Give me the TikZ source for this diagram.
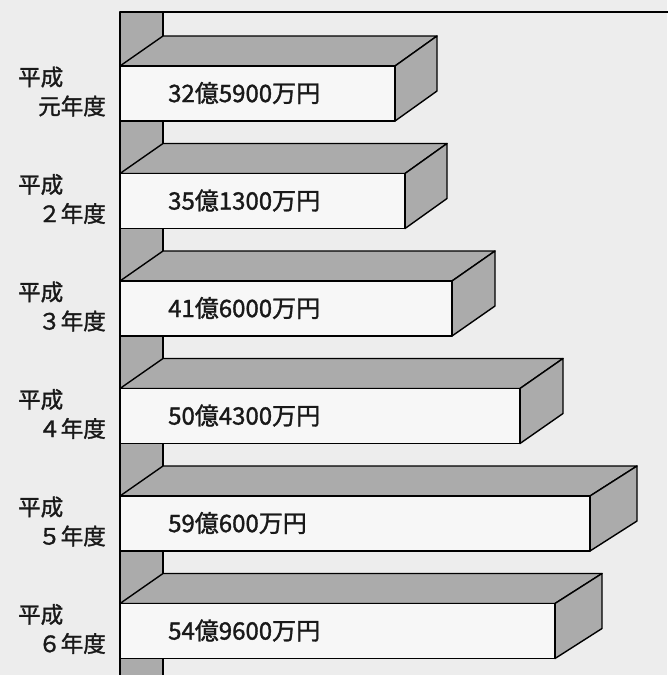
\documentclass[tikz,border=0pt]{standalone}
\usepackage{fontspec}
\newfontfamily\jpfont[FakeBold=1.4]{Noto Sans CJK JP}
\begin{document}
\begin{tikzpicture}[x=1pt,y=-1pt,
  edge/.style={line width=1.4pt,line join=round},
  shade/.style={edge,fill=black!33},
  front/.style={edge,fill=white!97!black},
  yearlbl/.style={inner sep=0pt,font=\jpfont\fontsize{22.5}{23}\selectfont,text=black!90},
  vallbl/.style={inner sep=0pt,font=\jpfont\fontsize{24}{25}\selectfont,text=black!90}]
\fill[black!7] (0,0) rectangle (667,675);
\useasboundingbox (0,0) rectangle (667,675);
% back wall
\fill[black!33] (120,12) rectangle (163,676);
\draw[edge] (120,676) -- (120,12) -- (668,12);
\draw[edge] (163,12) -- (163,676);
\foreach \i/\fr/\br/\val/\yr in {0/395/437/32億5900万円/元,1/405/447/35億1300万円/２,2/452/495/41億6000万円/３,3/520/563/50億4300万円/４,4/590/637/59億600万円/５,5/555/602/54億9600万円/６}{
  \pgfmathsetmacro\ft{66+107.5*\i}
  \pgfmathsetmacro\fb{\ft+55}
  \pgfmathsetmacro\bt{\ft-30}
  \pgfmathsetmacro\bb{\fb-30}
  \draw[shade] (120,\ft) -- (163,\bt) -- (\br,\bt) -- (\fr,\ft) -- cycle;
  \draw[shade] (\fr,\ft) -- (\br,\bt) -- (\br,\bb) -- (\fr,\fb) -- cycle;
  \draw[front] (120,\ft) rectangle (\fr,\fb);
  \node[vallbl,anchor=west] (v\i) at (168,\ft+27) {\val};
  \node[yearlbl,anchor=west] (h\i) at (18,\ft+11) {平成};
  \node[yearlbl,anchor=east] (y\i) at (106,\ft+40) {\yr 年度};
}
\end{tikzpicture}
\end{document}
